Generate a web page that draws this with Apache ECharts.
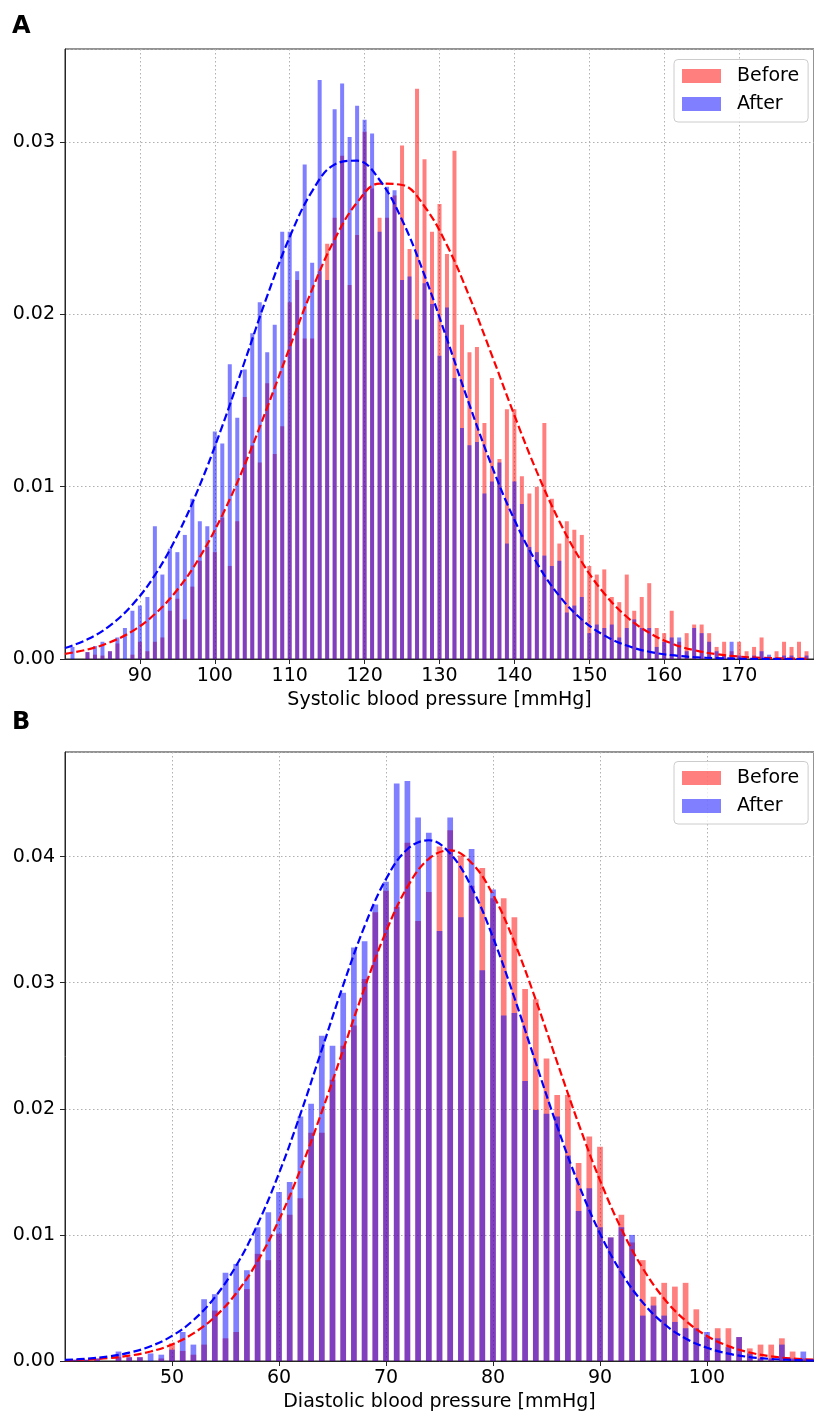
<!DOCTYPE html>
<html>
<head>
<meta charset="utf-8">
<script src="https://cdn.jsdelivr.net/npm/echarts@6/dist/echarts.min.js"></script>
<style>html,body{margin:0;padding:0;background:#fff}#main{width:814px;height:1414px}</style>
</head>
<body>
<div id="main"></div>
<script>
// ---- Panel A: systolic (bins 80..179) ----
const sysBins = [80,81,82,83,84,85,86,87,88,89,90,91,92,93,94,95,96,97,98,99,
  100,101,102,103,104,105,106,107,108,109,110,111,112,113,114,115,116,117,118,119,
  120,121,122,123,124,125,126,127,128,129,130,131,132,133,134,135,136,137,138,139,
  140,141,142,143,144,145,146,147,148,149,150,151,152,153,154,155,156,157,158,159,
  160,161,162,163,164,165,166,167,168,169,170,171,172,173,174,175,176,177,178,179];
const sysBefore = [0,0,0,0.0004,0.00025,0.0002,0.00045,0.0009,0,0.00025,
  0.001,0.00045,0.001,0.00125,0.0028,0.0035,0.0023,0.0042,0.0057,0.0065,
  0.0062,0.0082,0.0054,0.008,0.0152,0.0124,0.0114,0.016,0.0119,0.0135,
  0.0207,0.022,0.0186,0.0186,0.0225,0.0241,0.0256,0.0292,0.0217,0.0246,
  0.0306,0.0273,0.0256,0.0256,0.0269,0.0298,0.0238,0.0331,0.029,0.0248,
  0.0264,0.0235,0.0295,0.0194,0.0178,0.0181,0.0137,0.0163,0.0116,0.0145,
  0.0145,0.0106,0.0096,0.0100,0.0137,0.0093,0.0067,0.008,0.0075,0.0072,
  0.0054,0.0049,0.0052,0.0036,0.0033,0.0049,0.0028,0.0036,0.0044,0.0018,
  0.0015,0.0028,0.001,0.0015,0.002,0.002,0.0015,0.0007,0.001,0.00045,
  0.001,0.00045,0.0007,0.00125,0,0.00045,0.001,0.0007,0.001,0.00045];
const sysAfter = [0,0.0007,0,0.0004,0.00075,0.001,0.00045,0.00125,0.0018,0.0028,
  0.0031,0.0036,0.0077,0.0049,0.0064,0.0062,0.0072,0.0093,0.008,0.0077,
  0.0132,0.0125,0.0171,0.014,0.0168,0.0189,0.0207,0.0178,0.0194,0.0248,
  0.0248,0.0225,0.0287,0.023,0.0336,0.022,0.0319,0.0334,0.0303,0.0321,
  0.0313,0.0305,0.0248,0.0274,0.0272,0.022,0.0222,0.0197,0.0218,0.0206,
  0.0176,0.0204,0.0163,0.0134,0.0124,0.0126,0.0096,0.0103,0.0114,0.0067,
  0.0103,0.009,0.0065,0.0062,0.006,0.0054,0.0057,0.0027,0.0031,0.0036,
  0.0015,0.002,0.0018,0.002,0.00125,0.0018,0.0023,0.0018,0.0018,0.0007,
  0.001,0.00125,0.00125,0.00045,0.0018,0.0015,0.001,0.00045,0.0002,0.001,
  0.0002,0,0.0002,0.00045,0.00025,0,0.0002,0.0002,0,0.0002];
const sysFitX = [80,83,86,89,92,95,98,101,104,107,110,113,116,119,122,125,128,131,134,137,
  140,143,146,149,152,155,158,161,164,167,170,173,176,179];
const sysFitBefore = [0.0003,0.00055,0.00097,0.00162,0.00261,0.00402,0.00592,0.00835,0.01128,0.0146,
  0.01808,0.02145,0.02436,0.02649,0.02759,0.02751,0.02626,0.02401,0.02102,0.01762,
  0.01414,0.01086,0.00799,0.00563,0.0038,0.00245,0.00152,0.0009,0.00051,0.00028,
  0.00014,0.00007,0.00003,0.00002];
const sysFitAfter = [0.00064,0.00114,0.00194,0.00315,0.00487,0.00718,0.01009,0.01352,0.01728,0.02107,
  0.02449,0.02715,0.0287,0.02892,0.0278,0.02548,0.02227,0.01856,0.01475,0.01118,
  0.00808,0.00557,0.00366,0.00229,0.00137,0.00078,0.00042,0.00022,0.00011,0.00005,
  0.00002,0.00001,0,0];

// ---- Panel B: diastolic (bins 40..109) ----
const diaBins = [40,41,42,43,44,45,46,47,48,49,50,51,52,53,54,55,56,57,58,59,
  60,61,62,63,64,65,66,67,68,69,70,71,72,73,74,75,76,77,78,79,
  80,81,82,83,84,85,86,87,88,89,90,91,92,93,94,95,96,97,98,99,
  100,101,102,103,104,105,106,107,108,109];
const diaBefore = [0,0.0001,0.0001,0.0002,0,0.0003,0.0003,0.0003,0,0.0002,
  0.0014,0.0008,0.0005,0.0013,0.004,0.0018,0.0023,0.0057,0.0085,0.008,
  0.0101,0.0116,0.0129,0.0181,0.0181,0.0223,0.025,0.0266,0.0303,0.0356,
  0.0373,0.036,0.0411,0.0349,0.0372,0.0408,0.0421,0.0401,0.0377,0.0391,
  0.0367,0.0367,0.0352,0.0295,0.0287,0.024,0.0211,0.0211,0.0157,0.0178,
  0.017,0.0098,0.0116,0.0094,0.008,0.0051,0.0062,0.0059,0.0062,0.0041,
  0.0019,0.0026,0.0026,0.0019,0.001,0.0013,0.0013,0.0018,0.00075,0.0002];
const diaAfter = [0,0.0001,0.0001,0.0002,0,0.00075,0.0003,0.0003,0.0006,0.0005,
  0.0009,0.0023,0.0013,0.0049,0.0053,0.007,0.0077,0.0072,0.0106,0.0118,
  0.0134,0.0142,0.0194,0.0204,0.0258,0.025,0.0292,0.0328,0.0333,0.0362,
  0.038,0.0458,0.046,0.0431,0.0419,0.0341,0.0431,0.0352,0.0406,0.031,
  0.0374,0.0274,0.0276,0.0222,0.0199,0.0196,0.0194,0.0163,0.0119,0.0137,
  0.0106,0.0098,0.0106,0.01,0.0036,0.0044,0.0036,0.0031,0.0026,0.0026,
  0.0023,0.0018,0.0011,0.0019,0.0006,0.0002,0.0002,0.0013,0.0002,0.00075];
const diaFitX = [40,42,44,46,48,50,52,54,56,58,60,62,64,66,68,70,72,74,76,78,
  80,82,84,86,88,90,92,94,96,98,100,102,104,106,108,110];
const diaFitBefore = [0.00006,0.00011,0.00022,0.00042,0.00075,0.00131,0.00219,0.0035,0.00537,0.00791,
  0.01119,0.01518,0.01976,0.02469,0.0296,0.03405,0.0376,0.03983,0.0405,0.0395,
  0.03698,0.03322,0.02864,0.02369,0.01881,0.01433,0.01047,0.00735,0.00494,0.0032,
  0.00198,0.00118,0.00067,0.00037,0.00019,0.0001];
const diaFitAfter = [0.00009,0.00018,0.00035,0.00066,0.00117,0.00199,0.00324,0.00505,0.00756,0.01084,
  0.01489,0.01958,0.02469,0.02981,0.03449,0.03822,0.04059,0.0413,0.04024,0.03757,
  0.0336,0.02881,0.02365,0.0186,0.01402,0.01012,0.007,0.00464,0.00294,0.00179,
  0.00105,0.00058,0.00031,0.00016,0.00008,0.00004];

const xTitles = ['Systolic blood pressure [mmHg]', 'Diastolic blood pressure [mmHg]'];
const legendNames = ['Before', 'After'];

const FONT = 'DejaVu Sans';
const RED = 'rgba(255,0,0,0.5)';
const BLUE = 'rgba(0,0,255,0.5)';
const SPINE = '#262626';

function zip(xs, ys) { return xs.map((x, i) => [x, ys[i]]); }

function xAxisCfg(idx, min, max, name) {
  return {
    type: 'value', gridIndex: idx, min: min, max: max, interval: 10,
    name: name, nameLocation: 'middle', nameGap: 32,
    nameTextStyle: { fontSize: 19, color: '#000', fontFamily: FONT },
    axisLine: { show: true, onZero: false, lineStyle: { color: SPINE, width: 1 } },
    axisTick: { show: true, length: 5, lineStyle: { color: SPINE } },
    axisLabel: { fontSize: 19, color: '#000', margin: 8, fontFamily: FONT, showMinLabel: false, showMaxLabel: false },
    splitLine: { show: true, lineStyle: { type: [1.5, 2.5], color: '#b0b0b0', width: 1 } }
  };
}
function yAxisCfg(idx, max) {
  return {
    type: 'value', gridIndex: idx, min: 0, max: max, interval: 0.01,
    axisLine: { show: true, lineStyle: { color: SPINE, width: 1 } },
    axisTick: { show: true, length: 5, lineStyle: { color: SPINE } },
    axisLabel: { fontSize: 19, color: '#000', margin: 10, fontFamily: FONT, showMaxLabel: false,
      formatter: v => v.toFixed(2) },
    splitLine: { show: true, lineStyle: { type: [1.5, 2.5], color: '#b0b0b0', width: 1 } }
  };
}
function barSeries(idx, name, xs, ys, color, w) {
  return { type: 'bar', name: name, xAxisIndex: idx, yAxisIndex: idx, data: zip(xs, ys),
    barWidth: w, barGap: '-100%', itemStyle: { color: color }, z: 2, silent: true };
}
function fitSeries(idx, name, xs, ys, color) {
  return { type: 'line', name: name, xAxisIndex: idx, yAxisIndex: idx, data: zip(xs, ys),
    showSymbol: false, smooth: 0.4, z: 5, silent: true,
    lineStyle: { color: color, width: 2.2, type: [8, 3.5] } };
}
function legendCfg(top) {
  return {
    data: legendNames, orient: 'vertical', left: 674, top: top,
    itemWidth: 39, itemHeight: 14, itemGap: 9, icon: 'rect',
    padding: [7, 9, 8.5, 8],
    backgroundColor: 'rgba(255,255,255,0.8)', borderColor: '#cccccc', borderWidth: 1, borderRadius: 4,
    textStyle: { fontSize: 19, color: '#000', fontFamily: FONT, lineHeight: 19, padding: [0, 0, 0, 11] },
    selectedMode: false
  };
}

const chart = echarts.init(document.getElementById('main'), null, { renderer: 'canvas' });
chart.setOption({
  animation: false,
  textStyle: { fontFamily: FONT },
  grid: [
    { left: 65, top: 49, width: 755, height: 610, show: true, borderColor: SPINE, borderWidth: 1 },
    { left: 65, top: 752, width: 755, height: 609, show: true, borderColor: SPINE, borderWidth: 1 }
  ],
  xAxis: [xAxisCfg(0, 80, 180, xTitles[0]), xAxisCfg(1, 40, 110, xTitles[1])],
  yAxis: [yAxisCfg(0, 0.0354), yAxisCfg(1, 0.0483)],
  legend: [legendCfg(59.5), legendCfg(761.5)],
  graphic: [
    { type: 'text', left: 12, top: 15, style: { text: 'A', font: 'bold 24px "DejaVu Sans"', fill: '#000' } },
    { type: 'text', left: 12, top: 711, style: { text: 'B', font: 'bold 24px "DejaVu Sans"', fill: '#000' } }
  ],
  series: [
    barSeries(0, 'Before', sysBins, sysBefore, RED, 4),
    barSeries(0, 'After', sysBins, sysAfter, BLUE, 4),
    fitSeries(0, 'Before fit', sysFitX, sysFitBefore, '#ff0000'),
    fitSeries(0, 'After fit', sysFitX, sysFitAfter, '#0000ff'),
    barSeries(1, 'Before', diaBins, diaBefore, RED, 5.7),
    barSeries(1, 'After', diaBins, diaAfter, BLUE, 5.7),
    fitSeries(1, 'Before fit', diaFitX, diaFitBefore, '#ff0000'),
    fitSeries(1, 'After fit', diaFitX, diaFitAfter, '#0000ff')
  ]
});
</script>
</body>
</html>
